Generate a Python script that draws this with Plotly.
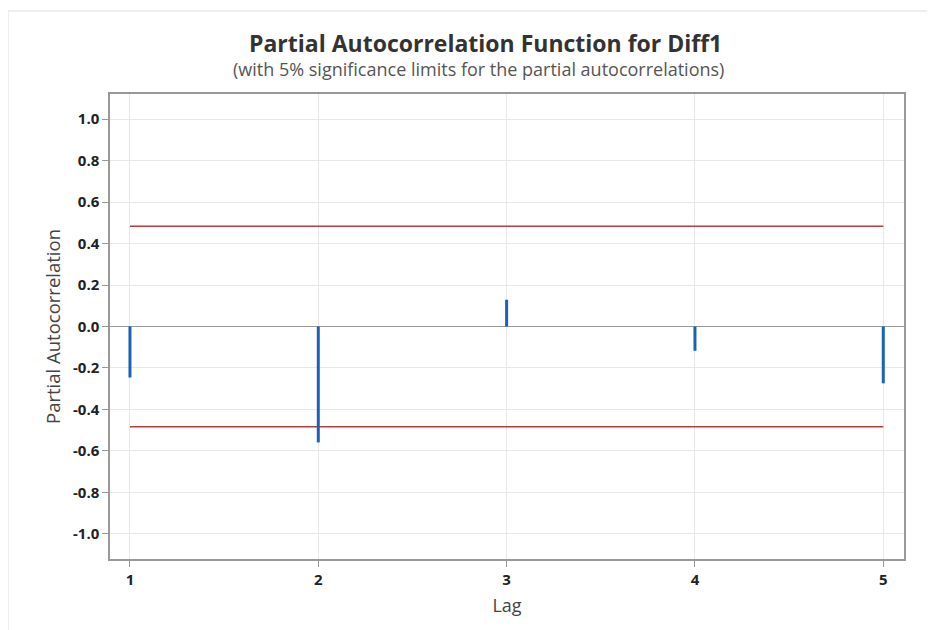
import plotly.graph_objects as go

lags = [1, 2, 3, 4, 5]
pacf = [-0.246, -0.559, 0.129, -0.117, -0.274]
sig_limit = 0.483
y_ticks = [1.0, 0.8, 0.6, 0.4, 0.2, 0.0, -0.2, -0.4, -0.6, -0.8, -1.0]

FONT = "Open Sans"

# plot area in layout pixels (page body adds an 8px offset)
L, R, T, B = 102, 896, 86, 551
PW, PH = R - L, B - T

def px(x):
    return (x - L) / PW

def py(y):
    return (B - y) / PH

xs, ys = [], []
for l, v in zip(lags, pacf):
    xs += [l, l, None]
    ys += [0, v, None]

fig = go.Figure()
fig.add_trace(go.Scatter(x=[lags[0], lags[-1]], y=[sig_limit, sig_limit], mode="lines",
                         line=dict(color="#b53d3d", width=1.5), hoverinfo="skip", showlegend=False))
fig.add_trace(go.Scatter(x=[lags[0], lags[-1]], y=[-sig_limit, -sig_limit], mode="lines",
                         line=dict(color="#b53d3d", width=1.5), hoverinfo="skip", showlegend=False))
fig.add_trace(go.Scatter(x=xs, y=ys, mode="lines",
                         line=dict(color="#1a62b8", width=3), showlegend=False))

fig.update_layout(
    width=935, height=630,
    margin=dict(l=L, r=935 - R, t=T, b=630 - B),
    paper_bgcolor="white", plot_bgcolor="white",
    font=dict(family=FONT, color="#222"),
    showlegend=False,
    shapes=[dict(type="line", xref="paper", yref="paper", x0=px(0), x1=px(940), y0=py(3), y1=py(3),
                 line=dict(color="#dddddd", width=1)),
            dict(type="line", xref="paper", yref="paper", x0=px(0), x1=px(0), y0=py(3), y1=py(640),
                 line=dict(color="#dddddd", width=1))],
    annotations=[
        dict(text="Partial Autocorrelation Function for Diff1", xref="paper", yref="paper",
             x=px(477), y=py(35), xanchor="center", yanchor="middle",
             showarrow=False, font=dict(family=FONT, size=23, color="#333", weight="bold")),
        dict(text="(with 5% significance limits for the partial autocorrelations)", xref="paper", yref="paper",
             x=px(470), y=py(61), xanchor="center", yanchor="middle",
             showarrow=False, font=dict(family=FONT, size=18, color="#555")),
    ],
)
fig.update_xaxes(
    range=[0.894, 5.11], tickvals=lags, ticktext=[str(l) for l in lags],
    showgrid=True, gridcolor="#e8e8e8", gridwidth=1, zeroline=False,
    showline=True, linecolor="#999", linewidth=1.5, mirror=True,
    ticks="outside", ticklen=6, tickcolor="#999",
    tickfont=dict(family=FONT, size=15, color="#222", weight="bold"),
    title=dict(text="Lag", font=dict(family=FONT, size=18, color="#444"), standoff=12),
)
fig.update_yaxes(
    range=[-1.121, 1.121], tickvals=y_ticks, ticktext=[f"{t:.1f}" for t in y_ticks],
    showgrid=True, gridcolor="#e8e8e8", gridwidth=1,
    zeroline=True, zerolinecolor="#999", zerolinewidth=1.2,
    showline=True, linecolor="#999", linewidth=1.5, mirror=True,
    ticks="outside", ticklen=6, tickcolor="#999",
    tickfont=dict(family=FONT, size=15, color="#222", weight="bold"),
    title=dict(text="Partial Autocorrelation", font=dict(family=FONT, size=18.5, color="#444"), standoff=8),
)

fig.write_html("out.html")
